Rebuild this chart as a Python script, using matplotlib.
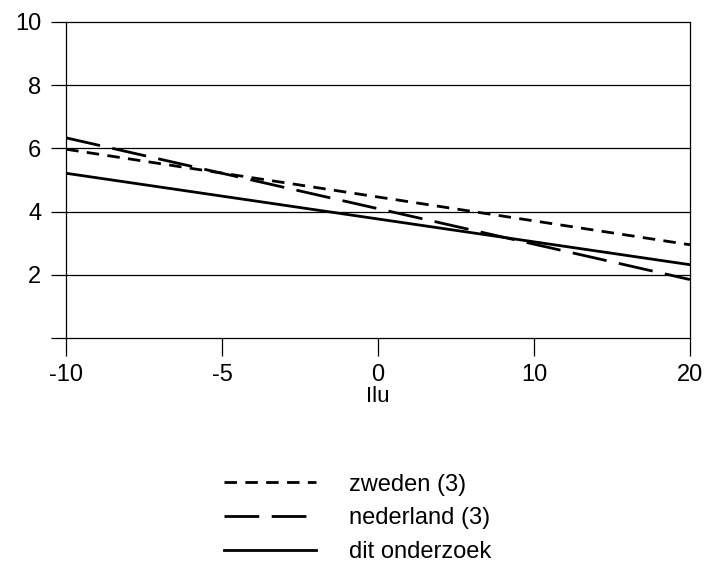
import matplotlib.pyplot as plt
import numpy as np

# x tick labels are evenly spaced on the original axis
x_labels = ["-10", "-5", "0", "10", "20"]
y_ticks = [0, 2, 4, 6, 8, 10]
y_labels = ["", "2", "4", "6", "8", "10"]

# line end values at x = -10 and x = 20
series = ["zweden (3)", "nederland (3)", "dit onderzoek"]
start_vals = [5.97, 6.33, 5.21]
end_vals = [2.95, 1.85, 2.32]

plt.rcParams['font.family'] = ['Liberation Sans', 'DejaVu Sans']
plt.rcParams['lines.scale_dashes'] = False

fig = plt.figure(figsize=(7.04, 5.73), dpi=100)
ax = fig.add_axes([0.094, 0.41, 0.886, 0.552])

x_pos = np.arange(len(x_labels))
ends = [x_pos[0], x_pos[-1]]

styles = [dict(dashes=(9, 6)), dict(dashes=(25, 9)), dict(linestyle="-")]
handles = []
for name, s, e, st in zip(series, start_vals, end_vals, styles):
    ln, = ax.plot(ends, [s, e], color="black", lw=2.0, label=name, **st)
    handles.append(ln)

# horizontal grid
for y in y_ticks:
    ax.axhline(y, color="black", lw=0.9, zorder=0, clip_on=False)

ax.set_xlim(x_pos[0], x_pos[-1])
ax.set_ylim(0, 10)
ax.set_xticks(x_pos)
ax.set_xticklabels(x_labels, fontsize=17)
ax.set_yticks(y_ticks)
ax.set_yticklabels(y_labels, fontsize=17)
ax.tick_params(axis="x", length=13, width=0.9, pad=6)
ax.tick_params(axis="y", length=11, width=0.9, pad=7)
ax.set_xlabel("Ilu", fontsize=16, labelpad=0)

for side in ["top", "bottom"]:
    ax.spines[side].set_visible(False)
for side in ["left", "right"]:
    ax.spines[side].set_linewidth(0.9)

fig.legend(handles=handles, loc="upper left", bbox_to_anchor=(0.305, 0.19),
           frameon=False, fontsize=17, handlelength=3.9, handletextpad=1.4,
           labelspacing=0.5, borderaxespad=0)

fig.savefig("out.png", dpi=100)
